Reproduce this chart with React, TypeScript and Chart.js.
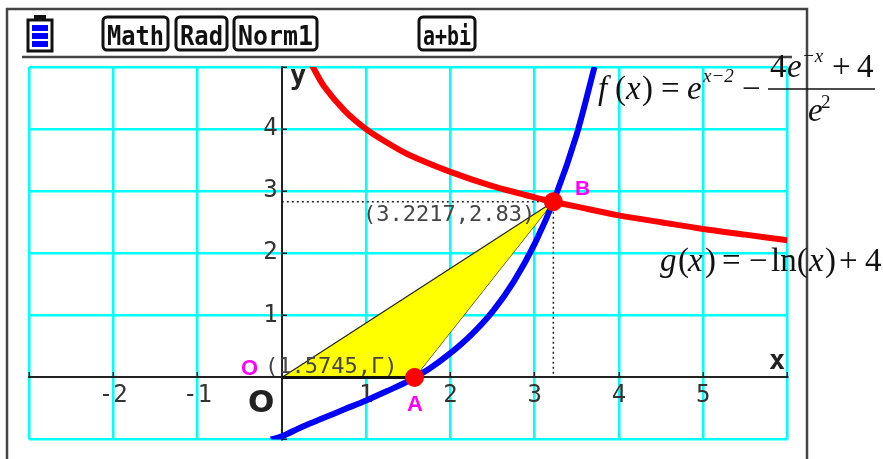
import React, { useEffect, useRef } from "react";
import { Chart, registerables } from "chart.js";

Chart.register(...registerables);

const blueX = [-0.13, 0, 0.25, 0.5, 0.75, 1, 1.25, 1.5, 1.75, 2, 2.25, 2.5, 2.75, 3, 3.25, 3.5, 3.71];
const blueY = [-1.0, -0.95, -0.79, -0.65, -0.51, -0.37, -0.22, -0.06, 0.14, 0.39, 0.69, 1.06, 1.54, 2.15, 2.93, 3.92, 5.0];
const redX = [0.36, 0.5, 0.75, 1, 1.25, 1.5, 2, 2.5, 3, 3.22, 3.5, 4, 4.5, 5, 5.5, 6];
const redY = [5.02, 4.69, 4.29, 4.0, 3.78, 3.59, 3.31, 3.08, 2.9, 2.83, 2.75, 2.61, 2.5, 2.39, 2.3, 2.21];
const upperEdgeX = [0, 3.2217];
const upperEdgeY = [0, 2.83];
const lowerEdgeX = [0, 1.5745, 3.2217];
const lowerEdgeY = [0, 0, 2.83];
const baseX = [0, 1.5745];
const baseY = [0, 0];
const dotHX = [0, 3.2217];
const dotHY = [2.83, 2.83];
const dotVX = [3.2217, 3.2217];
const dotVY = [2.83, 0];
const pointX = [1.5745, 3.2217];
const pointY = [0, 2.83];
const xTickLabels = [-2, -1, 1, 2, 3, 4, 5];
const yTickLabels = [1, 2, 3, 4];

const statusTabs: [string, number, number][] = [
  ["Math", 102, 169],
  ["Rad", 175, 228],
  ["Norm1", 233, 318],
  ["a+bi", 418, 476],
];

const SERIF = '"Liberation Serif", serif';
const MONO = '"DejaVu Sans Mono", monospace';
const SANS = '"Liberation Sans", sans-serif';

// text, x, baseline y, font, colour
const notes: [string, number, number, string, string][] = [
  ["y", 290, 84, `bold 27px ${MONO}`, "#222"],
  ["x", 769, 369, `bold 27px ${MONO}`, "#222"],
  ["O", 248, 412, `bold 31px "DejaVu Sans"`, "#222"],
  ["(3.2217,2.83)", 363, 221, `22px ${MONO}`, "#444"],
  ["(1.5745,Γ)", 265, 373, `22px ${MONO}`, "#444"],
  ["O", 241, 375, `bold 22px ${SANS}`, "#FF00FF"],
  ["A", 407, 411, `bold 22px ${SANS}`, "#FF00FF"],
  ["B", 575, 195, `bold 21px ${SANS}`, "#FF00FF"],
  ["f", 598, 99, `italic 33px ${SERIF}`, "#111"],
  ["(", 615, 99, `33px ${SERIF}`, "#111"],
  ["x", 626, 99, `italic 33px ${SERIF}`, "#111"],
  [")", 642, 99, `33px ${SERIF}`, "#111"],
  ["=", 661, 99, `33px ${SERIF}`, "#111"],
  ["e", 687, 99, `italic 33px ${SERIF}`, "#111"],
  ["x−2", 703, 82, `italic 19px ${SERIF}`, "#111"],
  ["−", 742, 99, `33px ${SERIF}`, "#111"],
  ["4", 770, 77, `33px ${SERIF}`, "#111"],
  ["e", 787, 77, `italic 33px ${SERIF}`, "#111"],
  ["−x", 802, 62, `italic 19px ${SERIF}`, "#111"],
  ["+", 832, 77, `33px ${SERIF}`, "#111"],
  ["4", 857, 77, `33px ${SERIF}`, "#111"],
  ["e", 808, 121, `italic 33px ${SERIF}`, "#111"],
  ["2", 821, 108, `19px ${SERIF}`, "#111"],
  ["g", 660, 271, `italic 33px ${SERIF}`, "#111"],
  ["(", 678, 271, `33px ${SERIF}`, "#111"],
  ["x", 688, 271, `italic 33px ${SERIF}`, "#111"],
  [")", 705, 271, `33px ${SERIF}`, "#111"],
  ["=", 722, 271, `33px ${SERIF}`, "#111"],
  ["−", 749, 271, `33px ${SERIF}`, "#111"],
  ["ln(", 771, 271, `33px ${SERIF}`, "#111"],
  ["x", 809, 271, `italic 33px ${SERIF}`, "#111"],
  [")", 825, 271, `33px ${SERIF}`, "#111"],
  ["+", 839, 271, `33px ${SERIF}`, "#111"],
  ["4", 865, 271, `33px ${SERIF}`, "#111"],
];

const pts = (xs: number[], ys: number[]) => xs.map((x, i) => ({ x, y: ys[i] }));
const gridColor = (ctx: any) => (ctx.tick && ctx.tick.value === 0 ? "rgba(0,0,0,0)" : "#00FFFF");

const framePlugin = {
  id: "frame",
  beforeDraw(chart: any) {
    const c = chart.ctx;
    c.save();
    c.fillStyle = "#fff";
    c.fillRect(0, 0, 883, 459);
    c.strokeStyle = "#444";
    c.lineWidth = 2.5;
    c.beginPath();
    c.moveTo(7, 459);
    c.lineTo(7, 9);
    c.lineTo(807, 9);
    c.lineTo(807, 459);
    c.moveTo(22, 57);
    c.lineTo(792, 57);
    c.stroke();

    // battery
    c.strokeStyle = "#111";
    c.lineWidth = 3;
    c.strokeRect(28, 20, 24, 31);
    c.fillStyle = "#111";
    c.fillRect(34, 15, 12, 5);
    c.fillStyle = "#0000FF";
    c.fillRect(32, 25, 16, 6);
    c.fillRect(32, 33, 16, 6);
    c.fillRect(32, 41, 16, 6);

    // status tabs
    c.textBaseline = "alphabetic";
    c.textAlign = "left";
    for (const [label, left, right] of statusTabs) {
      c.strokeStyle = "#111";
      c.lineWidth = 3;
      c.beginPath();
      c.roundRect(left + 1, 17, right - left - 2, 33, 4);
      c.stroke();
      c.fillStyle = "#111";
      c.font = `bold 27px ${MONO}`;
      c.fillText(label, left + 5, 45, right - left - 10);
    }
    c.restore();
  },
  afterDraw(chart: any) {
    const c = chart.ctx;
    c.save();
    c.textAlign = "left";
    c.textBaseline = "alphabetic";
    for (const [t, x, y, font, color] of notes) {
      c.font = font;
      c.fillStyle = color;
      c.fillText(t, x, y);
    }
    c.strokeStyle = "#111";
    c.lineWidth = 1.5;
    c.beginPath();
    c.moveTo(768, 89);
    c.lineTo(875, 89);
    c.stroke();
    c.restore();
  },
};

export default function App() {
  const ref = useRef<HTMLCanvasElement>(null);
  useEffect(() => {
    const tickFont = { family: "DejaVu Sans Mono", size: 24 };
    const chart = new Chart(ref.current as HTMLCanvasElement, {
      type: "scatter",
      plugins: [framePlugin],
      data: {
        datasets: [
          {
            label: "A, B",
            data: pts(pointX, pointY),
            backgroundColor: "#FF0000",
            borderColor: "#FF0000",
            pointRadius: 9,
            showLine: false,
            order: 0,
          },
          {
            label: "g(x)",
            data: pts(redX, redY),
            borderColor: "#FF0000",
            borderWidth: 6,
            pointRadius: 0,
            showLine: true,
            tension: 0.3,
            order: 1,
          },
          {
            label: "f(x)",
            data: pts(blueX, blueY),
            borderColor: "#0000FF",
            borderWidth: 6,
            pointRadius: 0,
            showLine: true,
            tension: 0.3,
            order: 2,
          },
          {
            label: "OA",
            data: pts(baseX, baseY),
            borderColor: "#111",
            borderWidth: 3,
            pointRadius: 0,
            showLine: true,
            order: 3,
          },
          {
            label: "triangle upper",
            data: pts(upperEdgeX, upperEdgeY),
            borderColor: "#222",
            backgroundColor: "#FFFF00",
            borderWidth: 1.2,
            pointRadius: 0,
            showLine: true,
            fill: "+1",
            tension: 0,
            order: 4,
          },
          {
            label: "triangle lower",
            data: pts(lowerEdgeX, lowerEdgeY),
            borderColor: "#222",
            borderWidth: 1.2,
            pointRadius: 0,
            showLine: true,
            tension: 0,
            order: 4,
          },
          {
            label: "dotted h",
            data: pts(dotHX, dotHY),
            borderColor: "#222",
            borderWidth: 1.5,
            borderDash: [2, 3],
            pointRadius: 0,
            showLine: true,
            order: 5,
          },
          {
            label: "dotted v",
            data: pts(dotVX, dotVY),
            borderColor: "#222",
            borderWidth: 1.5,
            borderDash: [2, 3],
            pointRadius: 0,
            showLine: true,
            order: 5,
          },
        ],
      },
      options: {
        animation: false,
        responsive: false,
        layout: { padding: { left: 29, top: 67, right: 95.5, bottom: 19.5 } },
        plugins: { legend: { display: false }, tooltip: { enabled: false } },
        scales: {
          x: {
            type: "linear",
            min: -3,
            max: 6,
            position: { y: 0 },
            grid: { color: gridColor, lineWidth: 2.5, tickColor: "#222", tickLength: -6, tickWidth: 1.5 },
            border: { color: "#222", width: 2 },
            ticks: {
              stepSize: 1,
              padding: 10,
              maxRotation: 0,
              autoSkip: false,
              color: "#333",
              font: tickFont,
              callback: (v: any) => (xTickLabels.includes(v) ? String(v) : ""),
            },
          },
          y: {
            type: "linear",
            min: -1,
            max: 5,
            position: { x: 0 },
            grid: { color: gridColor, lineWidth: 2.5, tickColor: "#222", tickLength: -6, tickWidth: 1.5 },
            border: { color: "#222", width: 2 },
            ticks: { stepSize: 1, display: false },
          },
          yLabels: {
            type: "linear",
            min: -1,
            max: 5,
            position: { x: -0.05 },
            grid: { display: false, drawTicks: false },
            border: { display: false },
            ticks: {
              stepSize: 1,
              color: "#333",
              font: tickFont,
              callback: (v: any) => (yTickLabels.includes(v) ? String(v) : ""),
            },
          },
        },
      } as any,
    } as any);
    return () => chart.destroy();
  }, []);
  return (
    <canvas
      ref={ref}
      width={883}
      height={459}
      style={{ position: "absolute", left: 0, top: 0, display: "block" }}
    />
  );
}
